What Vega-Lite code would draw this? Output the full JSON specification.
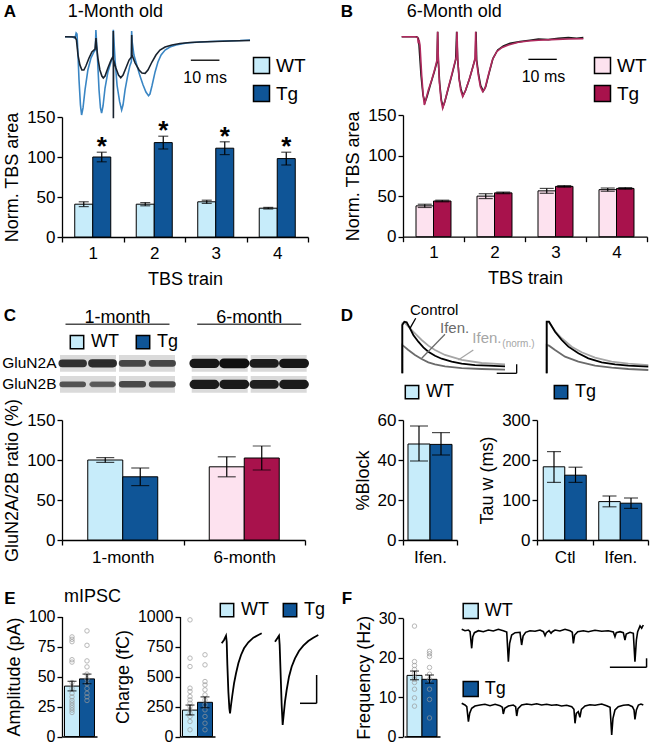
{
"$schema":"https://vega.github.io/schema/vega-lite/v6.json",
"width":650,"height":746,"autosize":{"type":"none"},"padding":0,"background":"white",
"config":{
 "font":"Liberation Sans",
 "view":{"stroke":null},
 "axis":{"grid":false,"domainColor":"black","domainWidth":1.3,"tickColor":"black","tickWidth":1.3,"tickSize":5,"labelColor":"black","labelFontSize":17,"titleFontSize":18,"titleFontWeight":"normal","titleColor":"black","labelPadding":2,"titlePadding":5},
 "legend":{"labelColor":"black","labelFontSize":19},
 "text":{"color":"black"}
},
"datasets":{
 "letters":[{"letter":"A","col":"left","row":"top"},{"letter":"B","col":"right","row":"top"},{"letter":"C","col":"left","row":"middle"},{"letter":"D","col":"right","row":"middle"}],
 "letters2":[{"letter":"E","col":"left","row":"bottom"},{"letter":"F","col":"right","row":"bottom"}],
 "tbsA":[
  {"train":"1","geno":"WT","mean":41,"lo":38,"hi":44},{"train":"1","geno":"Tg","mean":100,"lo":94,"hi":106,"sig":"*"},
  {"train":"2","geno":"WT","mean":41,"lo":39,"hi":43},{"train":"2","geno":"Tg","mean":118,"lo":110,"hi":126,"sig":"*"},
  {"train":"3","geno":"WT","mean":44,"lo":42,"hi":46},{"train":"3","geno":"Tg","mean":111,"lo":103,"hi":119,"sig":"*"},
  {"train":"4","geno":"WT","mean":36,"lo":35,"hi":37},{"train":"4","geno":"Tg","mean":98,"lo":90,"hi":106,"sig":"*"}],
 "tbsB":[
  {"train":"1","geno":"WT","mean":38,"lo":36,"hi":40},{"train":"1","geno":"Tg","mean":44,"lo":43,"hi":45},
  {"train":"2","geno":"WT","mean":50,"lo":47,"hi":53},{"train":"2","geno":"Tg","mean":54,"lo":53,"hi":55},
  {"train":"3","geno":"WT","mean":56.5,"lo":53.5,"hi":59.5},{"train":"3","geno":"Tg","mean":62,"lo":61,"hi":63},
  {"train":"4","geno":"WT","mean":58,"lo":56,"hi":60},{"train":"4","geno":"Tg","mean":59.5,"lo":58.5,"hi":60.5}],
 "traceA":[
  {"s":"Tg","t":0,"v":0},{"s":"Tg","t":2.4,"v":0},{"s":"Tg","t":3.5,"v":-1.7},{"s":"Tg","t":3.9,"v":4.7},{"s":"Tg","t":4.2,"v":3.4},{"s":"Tg","t":4.4,"v":-10.6},{"s":"Tg","t":4.9,"v":-55},{"s":"Tg","t":5.4,"v":-87},{"s":"Tg","t":5.8,"v":-100},{"s":"Tg","t":6.3,"v":-91},{"s":"Tg","t":7,"v":-68},{"s":"Tg","t":8,"v":-42.5},{"s":"Tg","t":9.1,"v":-27},{"s":"Tg","t":10.1,"v":-19.5},{"s":"Tg","t":10.6,"v":-17},{"s":"Tg","t":10.8,"v":8.6},{"s":"Tg","t":11,"v":-4},{"s":"Tg","t":11.4,"v":-30},{"s":"Tg","t":11.9,"v":-68},{"s":"Tg","t":12.4,"v":-91},{"s":"Tg","t":12.8,"v":-97.5},{"s":"Tg","t":13.3,"v":-88.5},{"s":"Tg","t":14,"v":-65.5},{"s":"Tg","t":15,"v":-45},{"s":"Tg","t":16.1,"v":-32},{"s":"Tg","t":16.7,"v":-27},{"s":"Tg","t":16.9,"v":9},{"s":"Tg","t":17.1,"v":-4},{"s":"Tg","t":17.5,"v":-30},{"s":"Tg","t":18.2,"v":-62},{"s":"Tg","t":19.1,"v":-83},{"s":"Tg","t":19.8,"v":-93.6},{"s":"Tg","t":20.3,"v":-87},{"s":"Tg","t":21,"v":-68},{"s":"Tg","t":21.9,"v":-50},{"s":"Tg","t":22.7,"v":-37},{"s":"Tg","t":23.2,"v":-32},{"s":"Tg","t":23.3,"v":7.3},{"s":"Tg","t":23.5,"v":-7},{"s":"Tg","t":24.1,"v":-23.4},{"s":"Tg","t":25.2,"v":-37.4},{"s":"Tg","t":26.2,"v":-50},{"s":"Tg","t":27.3,"v":-61.7},{"s":"Tg","t":28.3,"v":-70.7},{"s":"Tg","t":29.2,"v":-75.4},{"s":"Tg","t":29.7,"v":-73.2},{"s":"Tg","t":30.4,"v":-63},{"s":"Tg","t":31.5,"v":-45},{"s":"Tg","t":32.5,"v":-32.3},{"s":"Tg","t":33.6,"v":-23.4},{"s":"Tg","t":35,"v":-17},{"s":"Tg","t":36.7,"v":-13.2},{"s":"Tg","t":38.8,"v":-10.6},{"s":"Tg","t":42.5,"v":-8},{"s":"Tg","t":47.2,"v":-6.8},{"s":"Tg","t":50.7,"v":-6.1},{"s":"Tg","t":55.9,"v":-5.5},{"s":"Tg","t":61.2,"v":-4.9},{"s":"Tg","t":64.7,"v":-4.2},
  {"s":"WT","t":0,"v":0},{"s":"WT","t":3.5,"v":-0.4},{"s":"WT","t":4,"v":-4.2},{"s":"WT","t":4.55,"v":-23.4},{"s":"WT","t":5.2,"v":-36},{"s":"WT","t":5.9,"v":-42.5},{"s":"WT","t":6.6,"v":-42.5},{"s":"WT","t":7.3,"v":-37.4},{"s":"WT","t":8.4,"v":-27.2},{"s":"WT","t":9.4,"v":-19.5},{"s":"WT","t":10.5,"v":-15.7},{"s":"WT","t":10.84,"v":-1.7},{"s":"WT","t":11,"v":-10.6},{"s":"WT","t":11.5,"v":-27.2},{"s":"WT","t":12.2,"v":-42.5},{"s":"WT","t":12.9,"v":-50.2},{"s":"WT","t":13.4,"v":-52.8},{"s":"WT","t":14,"v":-50.2},{"s":"WT","t":15,"v":-40},{"s":"WT","t":16.1,"v":-29.8},{"s":"WT","t":16.85,"v":-24.7},{"s":"WT","t":16.89,"v":7.3},{"s":"WT","t":16.92,"v":-104},{"s":"WT","t":16.99,"v":-29.8},{"s":"WT","t":17.8,"v":-40},{"s":"WT","t":18.7,"v":-48.9},{"s":"WT","t":19.5,"v":-52.4},{"s":"WT","t":20.3,"v":-48.9},{"s":"WT","t":21.3,"v":-40},{"s":"WT","t":22.4,"v":-29.8},{"s":"WT","t":23.25,"v":-25.9},{"s":"WT","t":23.32,"v":2.2},{"s":"WT","t":23.43,"v":-23.4},{"s":"WT","t":24.5,"v":-33.6},{"s":"WT","t":25.9,"v":-42.5},{"s":"WT","t":26.9,"v":-46.4},{"s":"WT","t":28,"v":-46.8},{"s":"WT","t":29,"v":-42.5},{"s":"WT","t":30.4,"v":-32.3},{"s":"WT","t":31.8,"v":-23.4},{"s":"WT","t":33.2,"v":-17},{"s":"WT","t":35,"v":-13.2},{"s":"WT","t":37.4,"v":-10.6},{"s":"WT","t":40.2,"v":-8.7},{"s":"WT","t":43.7,"v":-7.4},{"s":"WT","t":47.2,"v":-6.8},{"s":"WT","t":52.5,"v":-6.1},{"s":"WT","t":57.7,"v":-5.5},{"s":"WT","t":64.7,"v":-4.9}],
 "traceB":[
  {"s":"WT","t":0,"v":0},{"s":"WT","t":5.27,"v":0},{"s":"WT","t":5.86,"v":-2},{"s":"WT","t":6.09,"v":-10.4},{"s":"WT","t":6.8,"v":-47.9},{"s":"WT","t":7.5,"v":-72.9},{"s":"WT","t":8.2,"v":-82},{"s":"WT","t":8.91,"v":-75},{"s":"WT","t":10.08,"v":-60.4},{"s":"WT","t":11.49,"v":-43.7},{"s":"WT","t":12.43,"v":-31.2},{"s":"WT","t":12.66,"v":6.3},{"s":"WT","t":12.9,"v":-31.2},{"s":"WT","t":13.37,"v":-58.3},{"s":"WT","t":13.96,"v":-79.1},{"s":"WT","t":14.54,"v":-87.5},{"s":"WT","t":15.25,"v":-80.4},{"s":"WT","t":16.42,"v":-64.5},{"s":"WT","t":17.83,"v":-45.8},{"s":"WT","t":19,"v":-29.1},{"s":"WT","t":19.35,"v":6.3},{"s":"WT","t":19.71,"v":-29.1},{"s":"WT","t":20.29,"v":-54.1},{"s":"WT","t":20.88,"v":-65.4},{"s":"WT","t":21.58,"v":-73.7},{"s":"WT","t":22.52,"v":-67},{"s":"WT","t":23.93,"v":-52},{"s":"WT","t":25.22,"v":-35.4},{"s":"WT","t":25.93,"v":-27},{"s":"WT","t":26.16,"v":6.3},{"s":"WT","t":26.4,"v":-29.1},{"s":"WT","t":27.1,"v":-47.9},{"s":"WT","t":27.81,"v":-61.2},{"s":"WT","t":28.74,"v":-67.9},{"s":"WT","t":29.57,"v":-62.5},{"s":"WT","t":30.74,"v":-45.8},{"s":"WT","t":32.15,"v":-27},{"s":"WT","t":33.79,"v":-16.6},{"s":"WT","t":35.79,"v":-11.6},{"s":"WT","t":38.13,"v":-8.3},{"s":"WT","t":41.65,"v":-6.2},{"s":"WT","t":45.18,"v":-4.5},{"s":"WT","t":48.11,"v":-2.9},{"s":"WT","t":51.63,"v":-3.7},{"s":"WT","t":55.15,"v":-2},{"s":"WT","t":58.67,"v":-1.2},{"s":"WT","t":61.61,"v":-2},{"s":"WT","t":63.95,"v":-1.2},
  {"s":"Tg","t":0,"v":0},{"s":"Tg","t":4.7,"v":0},{"s":"Tg","t":5.6,"v":-0.8},{"s":"Tg","t":5.86,"v":-8.3},{"s":"Tg","t":6.1,"v":-4.1},{"s":"Tg","t":6.44,"v":-10.4},{"s":"Tg","t":7.03,"v":-47.9},{"s":"Tg","t":7.62,"v":-75},{"s":"Tg","t":7.97,"v":-85.4},{"s":"Tg","t":8.44,"v":-79.1},{"s":"Tg","t":9.38,"v":-66.6},{"s":"Tg","t":10.55,"v":-54.1},{"s":"Tg","t":11.73,"v":-39.5},{"s":"Tg","t":12.43,"v":-29.1},{"s":"Tg","t":12.66,"v":6.3},{"s":"Tg","t":12.9,"v":-27},{"s":"Tg","t":13.25,"v":-56.2},{"s":"Tg","t":13.84,"v":-79.1},{"s":"Tg","t":14.42,"v":-89.5},{"s":"Tg","t":15.01,"v":-83.3},{"s":"Tg","t":16.19,"v":-66.6},{"s":"Tg","t":17.59,"v":-47.9},{"s":"Tg","t":18.77,"v":-31.2},{"s":"Tg","t":19.24,"v":-25},{"s":"Tg","t":19.47,"v":6.3},{"s":"Tg","t":19.71,"v":-27},{"s":"Tg","t":20.18,"v":-52.1},{"s":"Tg","t":20.76,"v":-66.6},{"s":"Tg","t":21.47,"v":-75},{"s":"Tg","t":22.29,"v":-68.7},{"s":"Tg","t":23.7,"v":-54.1},{"s":"Tg","t":25.1,"v":-37.5},{"s":"Tg","t":25.81,"v":-27},{"s":"Tg","t":26.04,"v":6.3},{"s":"Tg","t":26.28,"v":-29.1},{"s":"Tg","t":26.98,"v":-47.9},{"s":"Tg","t":27.69,"v":-62.5},{"s":"Tg","t":28.51,"v":-68.7},{"s":"Tg","t":29.33,"v":-64.5},{"s":"Tg","t":30.5,"v":-47.9},{"s":"Tg","t":31.91,"v":-29.1},{"s":"Tg","t":33.44,"v":-18.7},{"s":"Tg","t":35.2,"v":-13.7},{"s":"Tg","t":37.55,"v":-10.4},{"s":"Tg","t":41.07,"v":-7},{"s":"Tg","t":44.59,"v":-5.4},{"s":"Tg","t":48.11,"v":-4.5},{"s":"Tg","t":52.8,"v":-3.7},{"s":"Tg","t":58.67,"v":-2.9},{"s":"Tg","t":63.95,"v":-2.5}],
 "ratio":[{"age":"1-month","geno":"WT","mean":100,"lo":97,"hi":103},{"age":"1-month","geno":"Tg","mean":79,"lo":68,"hi":90},{"age":"6-month","geno":"WT","mean":91.5,"lo":79,"hi":104},{"age":"6-month","geno":"Tg","mean":102.5,"lo":87.5,"hi":117.5}],
 "header":[{"age":"1-month","part":"label"},{"age":"6-month","part":"label"},{"age":"1-month","part":"line"},{"age":"6-month","part":"line"}],
 "blotBox":[{"age":"1-month","geno":"WT","protein":"GluN2A"},{"age":"1-month","geno":"Tg","protein":"GluN2A"},{"age":"6-month","geno":"WT","protein":"GluN2A"},{"age":"6-month","geno":"Tg","protein":"GluN2A"},{"age":"1-month","geno":"WT","protein":"GluN2B"},{"age":"1-month","geno":"Tg","protein":"GluN2B"},{"age":"6-month","geno":"WT","protein":"GluN2B"},{"age":"6-month","geno":"Tg","protein":"GluN2B"}],
 "blot":[
  {"age":"1-month","lane":"WT-1","protein":"GluN2A","density":0.75},{"age":"1-month","lane":"WT-2","protein":"GluN2A","density":0.8},{"age":"1-month","lane":"Tg-1","protein":"GluN2A","density":0.6},{"age":"1-month","lane":"Tg-2","protein":"GluN2A","density":0.6},
  {"age":"1-month","lane":"WT-1","protein":"GluN2B","density":0.5},{"age":"1-month","lane":"WT-2","protein":"GluN2B","density":0.45},{"age":"1-month","lane":"Tg-1","protein":"GluN2B","density":0.58},{"age":"1-month","lane":"Tg-2","protein":"GluN2B","density":0.55},
  {"age":"6-month","lane":"WT-1","protein":"GluN2A","density":0.95},{"age":"6-month","lane":"WT-2","protein":"GluN2A","density":1},{"age":"6-month","lane":"Tg-1","protein":"GluN2A","density":0.9},{"age":"6-month","lane":"Tg-2","protein":"GluN2A","density":0.95},
  {"age":"6-month","lane":"WT-1","protein":"GluN2B","density":0.92},{"age":"6-month","lane":"WT-2","protein":"GluN2B","density":0.93},{"age":"6-month","lane":"Tg-1","protein":"GluN2B","density":0.88},{"age":"6-month","lane":"Tg-2","protein":"GluN2B","density":0.92}],
 "block":[{"cond":"Ifen.","geno":"WT","mean":48,"lo":39.5,"hi":57},{"cond":"Ifen.","geno":"Tg","mean":47.8,"lo":42.5,"hi":53.7}],
 "tau":[{"cond":"Ctl","geno":"WT","mean":183,"lo":144,"hi":221},{"cond":"Ctl","geno":"Tg","mean":162,"lo":144,"hi":182},{"cond":"Ifen.","geno":"WT","mean":96,"lo":83,"hi":110},{"cond":"Ifen.","geno":"Tg","mean":92,"lo":79,"hi":105}],
 "traceD":[
  {"cell":"WT","cond":"Ifen. (norm.)","t":0,"v":0},{"cell":"WT","cond":"Ifen. (norm.)","t":0,"v":96.8},{"cell":"WT","cond":"Ifen. (norm.)","t":10.7,"v":98.8},{"cell":"WT","cond":"Ifen. (norm.)","t":31.7,"v":90.4},{"cell":"WT","cond":"Ifen. (norm.)","t":66.7,"v":77.5},{"cell":"WT","cond":"Ifen. (norm.)","t":101.8,"v":64.6},{"cell":"WT","cond":"Ifen. (norm.)","t":137,"v":53.6},{"cell":"WT","cond":"Ifen. (norm.)","t":172.1,"v":45.2},{"cell":"WT","cond":"Ifen. (norm.)","t":224.7,"v":35.5},{"cell":"WT","cond":"Ifen. (norm.)","t":312.5,"v":25.8},{"cell":"WT","cond":"Ifen. (norm.)","t":417.8,"v":20},{"cell":"WT","cond":"Ifen. (norm.)","t":540.6,"v":17.4},
  {"cell":"WT","cond":"Ifen.","t":0,"v":0},{"cell":"WT","cond":"Ifen.","t":0,"v":54.8},{"cell":"WT","cond":"Ifen.","t":10.7,"v":51.6},{"cell":"WT","cond":"Ifen.","t":31.7,"v":45.2},{"cell":"WT","cond":"Ifen.","t":66.7,"v":35.5},{"cell":"WT","cond":"Ifen.","t":101.8,"v":27.7},{"cell":"WT","cond":"Ifen.","t":137,"v":21.3},{"cell":"WT","cond":"Ifen.","t":172.1,"v":17.4},{"cell":"WT","cond":"Ifen.","t":224.7,"v":13.4},{"cell":"WT","cond":"Ifen.","t":312.5,"v":10.2},{"cell":"WT","cond":"Ifen.","t":417.8,"v":8.3},{"cell":"WT","cond":"Ifen.","t":540.6,"v":7},
  {"cell":"WT","cond":"Control","t":0,"v":0},{"cell":"WT","cond":"Control","t":0,"v":93.6},{"cell":"WT","cond":"Control","t":10.7,"v":100},{"cell":"WT","cond":"Control","t":22.9,"v":98.8},{"cell":"WT","cond":"Control","t":40.5,"v":87.1},{"cell":"WT","cond":"Control","t":58,"v":74.2},{"cell":"WT","cond":"Control","t":84.4,"v":61.3},{"cell":"WT","cond":"Control","t":110.7,"v":50.3},{"cell":"WT","cond":"Control","t":137,"v":41.9},{"cell":"WT","cond":"Control","t":172.1,"v":34.1},{"cell":"WT","cond":"Control","t":207.2,"v":28.3},{"cell":"WT","cond":"Control","t":259.9,"v":22.5},{"cell":"WT","cond":"Control","t":312.5,"v":18.6},{"cell":"WT","cond":"Control","t":382.7,"v":16},{"cell":"WT","cond":"Control","t":452.9,"v":14.7},{"cell":"WT","cond":"Control","t":540.6,"v":13.4},
  {"cell":"Tg","cond":"Ifen. (norm.)","t":0,"v":0},{"cell":"Tg","cond":"Ifen. (norm.)","t":0,"v":98.8},{"cell":"Tg","cond":"Ifen. (norm.)","t":12.3,"v":98.8},{"cell":"Tg","cond":"Ifen. (norm.)","t":43.9,"v":82},{"cell":"Tg","cond":"Ifen. (norm.)","t":79,"v":67.8},{"cell":"Tg","cond":"Ifen. (norm.)","t":131.6,"v":51.6},{"cell":"Tg","cond":"Ifen. (norm.)","t":184.2,"v":40.7},{"cell":"Tg","cond":"Ifen. (norm.)","t":254.4,"v":30.3},{"cell":"Tg","cond":"Ifen. (norm.)","t":342.1,"v":22.5},{"cell":"Tg","cond":"Ifen. (norm.)","t":429.8,"v":18.6},{"cell":"Tg","cond":"Ifen. (norm.)","t":535,"v":16},
  {"cell":"Tg","cond":"Ifen.","t":0,"v":0},{"cell":"Tg","cond":"Ifen.","t":0,"v":54.8},{"cell":"Tg","cond":"Ifen.","t":12.3,"v":53.5},{"cell":"Tg","cond":"Ifen.","t":43.9,"v":45.2},{"cell":"Tg","cond":"Ifen.","t":96.5,"v":32.3},{"cell":"Tg","cond":"Ifen.","t":166.7,"v":22.5},{"cell":"Tg","cond":"Ifen.","t":254.4,"v":14.7},{"cell":"Tg","cond":"Ifen.","t":342.1,"v":10.9},{"cell":"Tg","cond":"Ifen.","t":429.8,"v":8.3},{"cell":"Tg","cond":"Ifen.","t":535,"v":6.4},
  {"cell":"Tg","cond":"Control","t":0,"v":0},{"cell":"Tg","cond":"Control","t":0,"v":100},{"cell":"Tg","cond":"Control","t":12.3,"v":100},{"cell":"Tg","cond":"Control","t":43.9,"v":80.6},{"cell":"Tg","cond":"Control","t":79,"v":64.5},{"cell":"Tg","cond":"Control","t":114.1,"v":51.6},{"cell":"Tg","cond":"Control","t":166.7,"v":38.7},{"cell":"Tg","cond":"Control","t":219.3,"v":29},{"cell":"Tg","cond":"Control","t":289.5,"v":21.3},{"cell":"Tg","cond":"Control","t":359.6,"v":17.4},{"cell":"Tg","cond":"Control","t":429.8,"v":14.7},{"cell":"Tg","cond":"Control","t":535,"v":12.8}],
 "dRules":[{"t":70.5,"v":106.6,"t2":40.5,"v2":87.2,"cond":"Control"},{"t":224.7,"v":75.6,"t2":102.1,"v2":29.1,"cond":"Ifen."},{"t":373.7,"v":45.2,"t2":294.7,"v2":25.8,"cond":"Ifen. (norm.)"},{"t":497,"v":0,"t2":602,"v2":0,"cond":"Control"},{"t":602,"v":0,"t2":602,"v2":17.4,"cond":"Control"}],
 "dLabels":[{"t":40.5,"v":122.7,"label":"Control","cond":"Control"},{"t":198.4,"v":87.2,"label":"Ifen.","cond":"Ifen."},{"t":368.4,"v":67.8,"label":"Ifen.","cond":"Ifen. (norm.)"}],
 "amp":[{"geno":"WT","mean":42,"lo":38,"hi":46},{"geno":"Tg","mean":48,"lo":44,"hi":52}],
 "ampPts":[{"geno":"WT","value":83},{"geno":"WT","value":81},{"geno":"WT","value":79},{"geno":"WT","value":64},{"geno":"WT","value":62},{"geno":"WT","value":45},{"geno":"WT","value":40},{"geno":"WT","value":36},{"geno":"WT","value":33},{"geno":"WT","value":30},{"geno":"WT","value":28},{"geno":"WT","value":26},{"geno":"WT","value":24},{"geno":"WT","value":22},{"geno":"WT","value":20},
  {"geno":"Tg","value":88},{"geno":"Tg","value":76},{"geno":"Tg","value":63},{"geno":"Tg","value":58},{"geno":"Tg","value":52},{"geno":"Tg","value":48},{"geno":"Tg","value":44},{"geno":"Tg","value":40},{"geno":"Tg","value":36},{"geno":"Tg","value":33},{"geno":"Tg","value":30}],
 "charge":[{"geno":"WT","mean":220,"lo":180,"hi":262},{"geno":"Tg","mean":285,"lo":240,"hi":330}],
 "chargePts":[{"geno":"WT","value":972},{"geno":"WT","value":653},{"geno":"WT","value":583},{"geno":"WT","value":403},{"geno":"WT","value":375},{"geno":"WT","value":333},{"geno":"WT","value":305},{"geno":"WT","value":278},{"geno":"WT","value":250},{"geno":"WT","value":222},{"geno":"WT","value":194},{"geno":"WT","value":167},{"geno":"WT","value":125},{"geno":"WT","value":56},
  {"geno":"Tg","value":681},{"geno":"Tg","value":597},{"geno":"Tg","value":458},{"geno":"Tg","value":430},{"geno":"Tg","value":389},{"geno":"Tg","value":347},{"geno":"Tg","value":305},{"geno":"Tg","value":264},{"geno":"Tg","value":222},{"geno":"Tg","value":167},{"geno":"Tg","value":111},{"geno":"Tg","value":56}],
 "freq":[{"geno":"WT","mean":15.5,"lo":14.4,"hi":16.6},{"geno":"Tg","mean":14.5,"lo":13.5,"hi":15.6}],
 "freqPts":[{"geno":"WT","value":28},{"geno":"WT","value":19},{"geno":"WT","value":18},{"geno":"WT","value":17},{"geno":"WT","value":16},{"geno":"WT","value":15},{"geno":"WT","value":14.5},{"geno":"WT","value":13.7},{"geno":"WT","value":12},{"geno":"WT","value":9.8},{"geno":"WT","value":7.7},
  {"geno":"Tg","value":21.6},{"geno":"Tg","value":21},{"geno":"Tg","value":20.3},{"geno":"Tg","value":17.5},{"geno":"Tg","value":15.8},{"geno":"Tg","value":14.5},{"geno":"Tg","value":12},{"geno":"Tg","value":9.4},{"geno":"Tg","value":4.7}],
 "traceEWT":[{"t":0,"v":-8.3},{"t":1.4,"v":-5},{"t":2.6,"v":-0.7},{"t":3,"v":-6.7},{"t":3.4,"v":-30},{"t":4,"v":-56.7},{"t":4.6,"v":-73.3},{"t":5,"v":-78.3},{"t":5.6,"v":-70},{"t":6.4,"v":-60},{"t":7.4,"v":-48.3},{"t":8.6,"v":-38.3},{"t":10,"v":-28.3},{"t":11.6,"v":-20},{"t":13.4,"v":-13.3},{"t":16,"v":-7.3},{"t":19,"v":-2.7},{"t":22,"v":0},{"t":24,"v":1.7}],
 "traceETg":[{"t":0,"v":-6.7},{"t":1.4,"v":-3.3},{"t":2.4,"v":-0.7},{"t":2.8,"v":-10},{"t":3.4,"v":-40},{"t":4,"v":-70},{"t":4.6,"v":-90},{"t":5.2,"v":-80},{"t":6,"v":-66.7},{"t":7,"v":-55},{"t":8.4,"v":-41.7},{"t":10,"v":-31.7},{"t":12,"v":-23.3},{"t":14.4,"v":-16},{"t":17,"v":-10.7},{"t":20,"v":-6},{"t":23,"v":-2.7},{"t":26,"v":0}],
 "traceFWT":[{"t":0,"v":0.7},{"t":18,"v":-0.7},{"t":37,"v":0},{"t":46,"v":-1.7},{"t":55,"v":-18.3},{"t":61,"v":-6.7},{"t":70,"v":-2.7},{"t":92,"v":-0.7},{"t":119,"v":-1.7},{"t":147,"v":0},{"t":174,"v":-1},{"t":202,"v":0.7},{"t":229,"v":-0.7},{"t":248,"v":-2},{"t":257,"v":-31.7},{"t":264,"v":-13.3},{"t":275,"v":-5},{"t":294,"v":-2.7},{"t":321,"v":-2.3},{"t":330,"v":-15},{"t":338,"v":-6},{"t":352,"v":-2.3},{"t":376,"v":-0.7},{"t":404,"v":-1.3},{"t":431,"v":0},{"t":450,"v":-1.7},{"t":459,"v":-5.7},{"t":466,"v":-2.7},{"t":481,"v":-0.7},{"t":492,"v":-3.3},{"t":499,"v":-1.7},{"t":514,"v":0},{"t":541,"v":-1},{"t":569,"v":0.7},{"t":596,"v":-0.7},{"t":609,"v":-2.3},{"t":615,"v":-13.3},{"t":622,"v":-5},{"t":639,"v":-1.7},{"t":670,"v":-0.7},{"t":697,"v":-1.7},{"t":734,"v":-0.3},{"t":771,"v":-1.3},{"t":807,"v":-0.7},{"t":835,"v":-2},{"t":844,"v":-6.7},{"t":851,"v":-2.7},{"t":872,"v":-1.7},{"t":890,"v":-2.7},{"t":899,"v":-10},{"t":906,"v":-4},{"t":927,"v":-2.3},{"t":945,"v":-3.3},{"t":954,"v":-31.7},{"t":962,"v":-10},{"t":969,"v":-1.7},{"t":982,"v":4},{"t":991,"v":1.7},{"t":1000,"v":5}],
 "traceFTg":[{"t":0,"v":1.7},{"t":18,"v":0},{"t":28,"v":-1.7},{"t":37,"v":-16.7},{"t":44,"v":-8.3},{"t":55,"v":-3.3},{"t":73,"v":-1},{"t":101,"v":0},{"t":128,"v":0.7},{"t":156,"v":-0.7},{"t":184,"v":0.7},{"t":211,"v":-0.7},{"t":224,"v":-2.3},{"t":229,"v":-9},{"t":237,"v":-3.3},{"t":257,"v":-1},{"t":284,"v":0},{"t":297,"v":-1.7},{"t":303,"v":-11},{"t":310,"v":-3.7},{"t":330,"v":0},{"t":358,"v":1},{"t":385,"v":0.3},{"t":413,"v":1.3},{"t":440,"v":0},{"t":468,"v":0.7},{"t":495,"v":-0.3},{"t":523,"v":0.3},{"t":550,"v":-1},{"t":578,"v":-0.3},{"t":606,"v":-1.7},{"t":618,"v":-4.3},{"t":624,"v":-18.3},{"t":631,"v":-8.3},{"t":642,"v":-6.7},{"t":651,"v":-12.3},{"t":659,"v":-4.3},{"t":679,"v":-1},{"t":706,"v":0.3},{"t":734,"v":-0.3},{"t":771,"v":1},{"t":798,"v":-0.7},{"t":817,"v":-2.3},{"t":826,"v":-30},{"t":833,"v":-13.3},{"t":844,"v":-5},{"t":862,"v":-1.7},{"t":890,"v":-0.3},{"t":918,"v":0.3},{"t":940,"v":-1.7},{"t":949,"v":-5},{"t":954,"v":-14.3},{"t":962,"v":-5},{"t":973,"v":0},{"t":987,"v":1},{"t":1000,"v":0}]
},
"layer":[
 {"data":{"name":"letters"},"mark":{"type":"text","fontSize":17,"fontWeight":"bold","baseline":"middle","align":"center"},
  "encoding":{"x":{"field":"col","type":"nominal","scale":{"domain":["left","right"],"range":[10,347],"padding":0},"axis":null},
   "y":{"field":"row","type":"nominal","scale":{"domain":["top","middle"],"range":[12,316],"padding":0},"axis":null},
   "text":{"field":"letter"}}},
 {"data":{"name":"letters2"},"mark":{"type":"text","fontSize":17,"fontWeight":"bold","baseline":"middle","align":"center"},
  "encoding":{"x":{"field":"col","type":"nominal","scale":{"domain":["left","right"],"range":[10,347],"padding":0},"axis":null},
   "y":{"field":"row","type":"nominal","scale":{"domain":["middle","bottom"],"range":[316,599],"padding":0},"axis":null},
   "text":{"field":"letter"}}},

 {"encoding":{"x":{"field":"t","type":"quantitative","scale":{"domain":[0,65],"range":[65,250.9]},"axis":null},
   "y":{"field":"v","type":"quantitative","scale":{"domain":[-100,10],"range":[115,28.9]},"axis":null}},
  "layer":[
   {"data":{"name":"traceA"},"mark":{"type":"line","strokeWidth":1.6},"encoding":{"color":{"field":"s","type":"nominal","scale":{"domain":["Tg","WT"],"range":["#3a86c4","#18222e"]},"legend":null}}},
   {"data":{"values":[{"t":44,"t2":54,"v":-30}]},"mark":{"type":"rule","color":"black","strokeWidth":1.3},"encoding":{"x2":{"field":"t2"}}},
   {"data":{"values":[{"t":49,"v":-53,"label":"10 ms"}]},"mark":{"type":"text","fontSize":16,"baseline":"middle","align":"center"},"encoding":{"text":{"field":"label"}}},
   {"data":{"values":[{"t":1,"v":31.6,"label":"1-Month old"}]},"mark":{"type":"text","fontSize":18,"align":"left","baseline":"middle"},"encoding":{"text":{"field":"label"}}}
  ]},

 {"encoding":{"x":{"field":"t","type":"quantitative","scale":{"domain":[0,64],"range":[401.7,583.5]},"axis":null},
   "y":{"field":"v","type":"quantitative","scale":{"domain":[-90,10],"range":[108.7,28.7]},"axis":null}},
  "layer":[
   {"data":{"name":"traceB"},"mark":{"type":"line","strokeWidth":1.6},"encoding":{"color":{"field":"s","type":"nominal","scale":{"domain":["WT","Tg"],"range":["#1a1a1a","#b02a5e"]},"legend":null}}},
   {"data":{"values":[{"t":44.6,"t2":54.6,"v":-28.3}]},"mark":{"type":"rule","color":"black","strokeWidth":1.3},"encoding":{"x2":{"field":"t2"}}},
   {"data":{"values":[{"t":49.9,"v":-50.8,"label":"10 ms"}]},"mark":{"type":"text","fontSize":16,"baseline":"middle","align":"center"},"encoding":{"text":{"field":"label"}}},
   {"data":{"values":[{"t":1.76,"v":30.9,"label":"6-Month old"}]},"mark":{"type":"text","fontSize":18,"align":"left","baseline":"middle"},"encoding":{"text":{"field":"label"}}}
  ]},

 {"data":{"name":"tbsA"},
  "encoding":{"x":{"field":"train","type":"ordinal","scale":{"range":[62,308],"paddingInner":0,"paddingOuter":0},"axis":{"orient":"bottom","offset":-509,"title":"TBS train","labelAngle":0,"tickBand":"extent","labelPadding":3,"titlePadding":9}},
   "xOffset":{"field":"geno","type":"nominal","scale":{"domain":["WT","Tg"],"paddingInner":0,"paddingOuter":0.708}}},
  "layer":[
   {"mark":{"type":"bar","stroke":"black","strokeWidth":1},
    "encoding":{"y":{"field":"mean","type":"quantitative","scale":{"domain":[0,150],"range":[237,117]},"axis":{"orient":"left","offset":-62,"values":[0,50,100,150],"title":"Norm. TBS area"}},
     "color":{"field":"geno","type":"nominal","scale":{"domain":["WT","Tg"],"range":["#c7ecfa","#0f5597"]},
      "legend":{"orient":"none","legendX":252,"legendY":56,"direction":"vertical","title":null,"symbolType":"square","symbolSize":256,"labelFontSize":19,"labelOffset":5,"padding":0,"rowPadding":5,"encode":{"symbols":{"update":{"stroke":{"value":"black"},"strokeWidth":{"value":1.2}}}}}}}},
   {"mark":{"type":"rule","color":"black","strokeWidth":1.2},"encoding":{"y":{"field":"lo","type":"quantitative","scale":{"domain":[0,150],"range":[237,117]},"axis":{"orient":"left","offset":-62,"values":[0,50,100,150],"title":"Norm. TBS area"}},"y2":{"field":"hi"}}},
   {"mark":{"type":"tick","orient":"horizontal","color":"black","size":10,"thickness":1.2},"encoding":{"y":{"field":"lo","type":"quantitative","scale":{"domain":[0,150],"range":[237,117]},"axis":{"orient":"left","offset":-62,"values":[0,50,100,150],"title":"Norm. TBS area"}}}},
   {"mark":{"type":"tick","orient":"horizontal","color":"black","size":10,"thickness":1.2},"encoding":{"y":{"field":"hi","type":"quantitative","scale":{"domain":[0,150],"range":[237,117]},"axis":{"orient":"left","offset":-62,"values":[0,50,100,150],"title":"Norm. TBS area"}}}},
   {"transform":[{"filter":"datum.sig == '*'"}],"mark":{"type":"text","fontSize":26,"fontWeight":"bold","baseline":"alphabetic","align":"center","dy":3},"encoding":{"y":{"field":"hi","type":"quantitative","scale":{"domain":[0,150],"range":[237,117]},"axis":{"orient":"left","offset":-62,"values":[0,50,100,150],"title":"Norm. TBS area"}},"text":{"field":"sig"}}}
  ]},

 {"data":{"name":"tbsB"},
  "encoding":{"x":{"field":"train","type":"ordinal","scale":{"range":[403,647],"paddingInner":0,"paddingOuter":0},"axis":{"orient":"bottom","offset":-509.3,"title":"TBS train","labelAngle":0,"tickBand":"extent","labelPadding":3,"titlePadding":9}},
   "xOffset":{"field":"geno","type":"nominal","scale":{"domain":["WT","Tg"],"paddingInner":0,"paddingOuter":0.743}}},
  "layer":[
   {"mark":{"type":"bar","stroke":"black","strokeWidth":1},
    "encoding":{"y":{"field":"mean","type":"quantitative","scale":{"domain":[0,150],"range":[236.7,115]},"axis":{"orient":"left","offset":-403,"values":[0,50,100,150],"title":"Norm. TBS area"}},
     "color":{"field":"geno","type":"nominal","scale":{"domain":["WT","Tg"],"range":["#fde2ef","#a8124c"]},
      "legend":{"orient":"none","legendX":593,"legendY":56,"direction":"vertical","title":null,"symbolType":"square","symbolSize":256,"labelFontSize":19,"labelOffset":5,"padding":0,"rowPadding":5,"encode":{"symbols":{"update":{"stroke":{"value":"black"},"strokeWidth":{"value":1.2}}}}}}}},
   {"mark":{"type":"rule","color":"black","strokeWidth":1.2},"encoding":{"y":{"field":"lo","type":"quantitative","scale":{"domain":[0,150],"range":[236.7,115]},"axis":{"orient":"left","offset":-403,"values":[0,50,100,150],"title":"Norm. TBS area"}},"y2":{"field":"hi"}}},
   {"mark":{"type":"tick","orient":"horizontal","color":"black","size":14,"thickness":1.2},"encoding":{"y":{"field":"lo","type":"quantitative","scale":{"domain":[0,150],"range":[236.7,115]},"axis":{"orient":"left","offset":-403,"values":[0,50,100,150],"title":"Norm. TBS area"}}}},
   {"mark":{"type":"tick","orient":"horizontal","color":"black","size":14,"thickness":1.2},"encoding":{"y":{"field":"hi","type":"quantitative","scale":{"domain":[0,150],"range":[236.7,115]},"axis":{"orient":"left","offset":-403,"values":[0,50,100,150],"title":"Norm. TBS area"}}}}
  ]},

 {"data":{"name":"header"},
  "encoding":{"x":{"field":"age","type":"nominal","scale":{"domain":["1-month","6-month"],"range":[60,306.7],"paddingInner":0.127,"paddingOuter":0},"axis":null},
   "y":{"field":"part","type":"nominal","scale":{"domain":["label","line"],"range":[315,327.3],"padding":0},"axis":null}},
  "layer":[
   {"transform":[{"filter":"datum.part == 'label'"}],"mark":{"type":"text","fontSize":18,"baseline":"middle","align":"center"},"encoding":{"text":{"field":"age"}}},
   {"transform":[{"filter":"datum.part == 'line'"}],"mark":{"type":"tick","orient":"horizontal","color":"black","size":104,"thickness":1.3}}
  ]},

 {"encoding":{"x":{"field":"age","type":"nominal","scale":{"domain":["1-month","6-month"],"range":[60,306.7],"paddingInner":0.127,"paddingOuter":0},"axis":null},
   "y":{"field":"protein","type":"nominal","scale":{"domain":["GluN2A","GluN2B"],"range":[355,392.7],"paddingInner":0.205,"paddingOuter":0},"axis":{"orient":"left","offset":-58,"domain":false,"ticks":false,"labelPadding":2,"title":null,"labelFontSize":15.5}}},
  "layer":[
   {"data":{"name":"blotBox"},"mark":{"type":"bar","color":"#dadada"},"encoding":{"xOffset":{"field":"geno","type":"nominal","scale":{"domain":["WT","Tg"],"paddingInner":0.05,"paddingOuter":0}}}},
   {"data":{"name":"blot"},"mark":{"type":"bar","height":{"band":0.28},"fill":"#111111","stroke":"#111111","cornerRadius":3},
    "encoding":{"xOffset":{"field":"lane","type":"nominal","scale":{"domain":["WT-1","WT-2","Tg-1","Tg-2"],"paddingInner":0.15,"paddingOuter":0}},
     "opacity":{"field":"density","type":"quantitative","scale":{"domain":[0.4,1],"range":[0.6,1]},"legend":null},
     "strokeWidth":{"field":"density","type":"quantitative","scale":{"domain":[0.4,1],"range":[0.5,5]},"legend":null}}}
  ],
  "resolve":{"scale":{"xOffset":"independent"}}},

 {"data":{"name":"ratio"},
  "encoding":{"x":{"field":"age","type":"nominal","scale":{"domain":["1-month","6-month"],"range":[62,305],"paddingInner":0,"paddingOuter":0},"axis":{"orient":"bottom","offset":-206,"title":null,"labelAngle":0,"tickBand":"extent","labelPadding":4}},
   "xOffset":{"field":"geno","type":"nominal","scale":{"domain":["WT","Tg"],"paddingInner":0,"paddingOuter":0.736}}},
  "layer":[
   {"transform":[{"filter":"datum.age == '1-month'"}],"mark":{"type":"bar","stroke":"black","strokeWidth":1},
    "encoding":{"y":{"field":"mean","type":"quantitative","scale":{"domain":[0,150],"range":[540,420]},"axis":{"orient":"left","offset":-62,"values":[0,50,100,150],"title":"GluN2A/2B ratio (%)"}},
     "color":{"field":"geno","type":"nominal","scale":{"domain":["WT","Tg"],"range":["#c7ecfa","#0f5597"]},
      "legend":{"orient":"none","legendX":68,"legendY":333,"direction":"horizontal","title":null,"symbolType":"square","symbolSize":180,"labelFontSize":18,"labelOffset":5,"padding":0,"columnPadding":14,"encode":{"symbols":{"update":{"stroke":{"value":"black"},"strokeWidth":{"value":1.2}}}}}}}},
   {"transform":[{"filter":"datum.age == '6-month'"}],"mark":{"type":"bar","stroke":"black","strokeWidth":1},
    "encoding":{"y":{"field":"mean","type":"quantitative","scale":{"domain":[0,150],"range":[540,420]},"axis":{"orient":"left","offset":-62,"values":[0,50,100,150],"title":"GluN2A/2B ratio (%)"}},
     "fill":{"field":"geno","type":"nominal","scale":{"domain":["WT","Tg"],"range":["#fde2ef","#a8124c"]},
      "legend":{"orient":"none","legendX":199,"legendY":333,"direction":"horizontal","title":null,"symbolType":"square","symbolSize":180,"labelFontSize":18,"labelOffset":5,"padding":0,"columnPadding":13,"encode":{"symbols":{"update":{"stroke":{"value":"black"},"strokeWidth":{"value":1.2}}}}}}}},
   {"mark":{"type":"rule","color":"black","strokeWidth":1.2},"encoding":{"y":{"field":"lo","type":"quantitative","scale":{"domain":[0,150],"range":[540,420]},"axis":{"orient":"left","offset":-62,"values":[0,50,100,150],"title":"GluN2A/2B ratio (%)"}},"y2":{"field":"hi"}}},
   {"mark":{"type":"tick","orient":"horizontal","color":"black","size":18,"thickness":1.2},"encoding":{"y":{"field":"lo","type":"quantitative","scale":{"domain":[0,150],"range":[540,420]},"axis":{"orient":"left","offset":-62,"values":[0,50,100,150],"title":"GluN2A/2B ratio (%)"}}}},
   {"mark":{"type":"tick","orient":"horizontal","color":"black","size":18,"thickness":1.2},"encoding":{"y":{"field":"hi","type":"quantitative","scale":{"domain":[0,150],"range":[540,420]},"axis":{"orient":"left","offset":-62,"values":[0,50,100,150],"title":"GluN2A/2B ratio (%)"}}}}
  ]},

 {"encoding":{"x":{"field":"t","type":"quantitative","scale":{"domain":[0,600],"range":[402.3,516.3]},"axis":null},
   "y":{"field":"v","type":"quantitative","scale":{"domain":[0,100],"range":[373.3,321.7]},"axis":null},
   "color":{"field":"cond","type":"nominal","scale":{"domain":["Ifen. (norm.)","Ifen.","Control"],"range":["#a6a6a6","#6b6b6b","#000000"]},"legend":null}},
  "layer":[
   {"data":{"name":"traceD"},"transform":[{"filter":"datum.cell == 'WT'"}],"mark":{"type":"line","strokeWidth":1.8}},
   {"data":{"name":"dRules"},"mark":{"type":"rule","strokeWidth":1.3},"encoding":{"x2":{"field":"t2"},"y2":{"field":"v2"}}},
   {"data":{"name":"dLabels"},"mark":{"type":"text","fontSize":15,"align":"left","baseline":"middle"},"encoding":{"text":{"field":"label"}}},
   {"data":{"values":[{"t":526.3,"v":56.8,"label":"(norm.)","cond":"Ifen. (norm.)"}]},"mark":{"type":"text","fontSize":10,"align":"left","baseline":"middle"},"encoding":{"text":{"field":"label"}}}
  ]},

 {"data":{"name":"traceD"},"transform":[{"filter":"datum.cell == 'Tg'"}],"mark":{"type":"line","strokeWidth":1.8},
  "encoding":{"x":{"field":"t","type":"quantitative","scale":{"domain":[0,535],"range":[546.7,648.3]},"axis":null},
   "y":{"field":"v","type":"quantitative","scale":{"domain":[0,100],"range":[373.3,321.7]},"axis":null},
   "color":{"field":"cond","type":"nominal","scale":{"domain":["Ifen. (norm.)","Ifen.","Control"],"range":["#a6a6a6","#6b6b6b","#000000"]},"legend":null}}},

 {"data":{"name":"block"},
  "encoding":{"x":{"field":"cond","type":"nominal","scale":{"domain":["Ifen."],"range":[403,457],"paddingInner":0,"paddingOuter":0},"axis":{"orient":"bottom","offset":-206,"title":null,"labelAngle":0,"tickBand":"extent","labelPadding":4}},
   "xOffset":{"field":"geno","type":"nominal","scale":{"domain":["WT","Tg"],"paddingInner":0,"paddingOuter":0.227}}},
  "layer":[
   {"mark":{"type":"bar","stroke":"black","strokeWidth":1},
    "encoding":{"y":{"field":"mean","type":"quantitative","scale":{"domain":[0,60],"range":[540,420]},"axis":{"orient":"left","offset":-403,"values":[0,20,40,60],"title":"%Block"}},
     "color":{"field":"geno","type":"nominal","scale":{"domain":["WT","Tg"],"range":["#c7ecfa","#0f5597"]},
      "legend":{"orient":"none","legendX":403,"legendY":383,"direction":"horizontal","title":null,"symbolType":"square","symbolSize":180,"labelFontSize":18,"labelOffset":5,"padding":0,"columnPadding":97,"encode":{"symbols":{"update":{"stroke":{"value":"black"},"strokeWidth":{"value":1.2}}}}}}}},
   {"mark":{"type":"rule","color":"black","strokeWidth":1.2},"encoding":{"y":{"field":"lo","type":"quantitative","scale":{"domain":[0,60],"range":[540,420]},"axis":{"orient":"left","offset":-403,"values":[0,20,40,60],"title":"%Block"}},"y2":{"field":"hi"}}},
   {"mark":{"type":"tick","orient":"horizontal","color":"black","size":18,"thickness":1.2},"encoding":{"y":{"field":"lo","type":"quantitative","scale":{"domain":[0,60],"range":[540,420]},"axis":{"orient":"left","offset":-403,"values":[0,20,40,60],"title":"%Block"}}}},
   {"mark":{"type":"tick","orient":"horizontal","color":"black","size":18,"thickness":1.2},"encoding":{"y":{"field":"hi","type":"quantitative","scale":{"domain":[0,60],"range":[540,420]},"axis":{"orient":"left","offset":-403,"values":[0,20,40,60],"title":"%Block"}}}}
  ]},

 {"data":{"name":"tau"},
  "encoding":{"x":{"field":"cond","type":"nominal","scale":{"domain":["Ctl","Ifen."],"range":[537,648],"paddingInner":0,"paddingOuter":0},"axis":{"orient":"bottom","offset":-206,"title":null,"labelAngle":0,"tickBand":"extent","labelPadding":4}},
   "xOffset":{"field":"geno","type":"nominal","scale":{"domain":["WT","Tg"],"paddingInner":0,"paddingOuter":0.29}}},
  "layer":[
   {"mark":{"type":"bar","stroke":"black","strokeWidth":1},
    "encoding":{"y":{"field":"mean","type":"quantitative","scale":{"domain":[0,300],"range":[540,420]},"axis":{"orient":"left","offset":-537,"values":[0,100,200,300],"title":"Tau w (ms)"}},
     "color":{"field":"geno","type":"nominal","scale":{"domain":["WT","Tg"],"range":["#c7ecfa","#0f5597"]},"legend":null}}},
   {"mark":{"type":"rule","color":"black","strokeWidth":1.2},"encoding":{"y":{"field":"lo","type":"quantitative","scale":{"domain":[0,300],"range":[540,420]},"axis":{"orient":"left","offset":-537,"values":[0,100,200,300],"title":"Tau w (ms)"}},"y2":{"field":"hi"}}},
   {"mark":{"type":"tick","orient":"horizontal","color":"black","size":14,"thickness":1.2},"encoding":{"y":{"field":"lo","type":"quantitative","scale":{"domain":[0,300],"range":[540,420]},"axis":{"orient":"left","offset":-537,"values":[0,100,200,300],"title":"Tau w (ms)"}}}},
   {"mark":{"type":"tick","orient":"horizontal","color":"black","size":14,"thickness":1.2},"encoding":{"y":{"field":"hi","type":"quantitative","scale":{"domain":[0,300],"range":[540,420]},"axis":{"orient":"left","offset":-537,"values":[0,100,200,300],"title":"Tau w (ms)"}}}}
  ]},

 {"encoding":{"x":{"field":"geno","type":"nominal","scale":{"domain":["WT","Tg"],"range":[62,97],"paddingInner":0,"paddingOuter":0.167},"axis":{"orient":"bottom","offset":-9.5,"labels":false,"ticks":false,"title":null}}},
  "layer":[
   {"data":{"name":"amp"},"mark":{"type":"bar","stroke":"black","strokeWidth":1},
    "encoding":{"y":{"field":"mean","type":"quantitative","scale":{"domain":[0,100],"range":[736.5,616.5]},"axis":{"orient":"left","offset":-62,"values":[0,25,50,75,100],"title":"Amplitude (pA)","labelFontSize":16}},
     "color":{"field":"geno","type":"nominal","scale":{"domain":["WT","Tg"],"range":["#c7ecfa","#0f5597"]},
      "legend":{"orient":"none","legendX":218,"legendY":601,"direction":"horizontal","title":null,"symbolType":"square","symbolSize":180,"labelFontSize":18,"labelOffset":5,"padding":0,"columnPadding":11,"encode":{"symbols":{"update":{"stroke":{"value":"black"},"strokeWidth":{"value":1.2}}}}}}}},
   {"data":{"name":"ampPts"},"mark":{"type":"point","shape":"circle","filled":false,"color":"#9a9a9a","size":20,"strokeWidth":1},"encoding":{"y":{"field":"value","type":"quantitative","scale":{"domain":[0,100],"range":[736.5,616.5]},"axis":{"orient":"left","offset":-62,"values":[0,25,50,75,100],"title":"Amplitude (pA)","labelFontSize":16}}}},
   {"data":{"name":"amp"},"mark":{"type":"rule","color":"black","strokeWidth":1.2},"encoding":{"y":{"field":"lo","type":"quantitative","scale":{"domain":[0,100],"range":[736.5,616.5]},"axis":{"orient":"left","offset":-62,"values":[0,25,50,75,100],"title":"Amplitude (pA)","labelFontSize":16}},"y2":{"field":"hi"}}},
   {"data":{"name":"amp"},"mark":{"type":"tick","orient":"horizontal","color":"black","size":9,"thickness":1.2},"encoding":{"y":{"field":"lo","type":"quantitative","scale":{"domain":[0,100],"range":[736.5,616.5]},"axis":{"orient":"left","offset":-62,"values":[0,25,50,75,100],"title":"Amplitude (pA)","labelFontSize":16}}}},
   {"data":{"name":"amp"},"mark":{"type":"tick","orient":"horizontal","color":"black","size":9,"thickness":1.2},"encoding":{"y":{"field":"hi","type":"quantitative","scale":{"domain":[0,100],"range":[736.5,616.5]},"axis":{"orient":"left","offset":-62,"values":[0,25,50,75,100],"title":"Amplitude (pA)","labelFontSize":16}}}},
   {"data":{"values":[{"geno":"WT","value":116.5,"label":"mIPSC"}]},"mark":{"type":"text","fontSize":18,"align":"left","baseline":"middle","dx":-8},"encoding":{"y":{"field":"value","type":"quantitative","scale":{"domain":[0,100],"range":[736.5,616.5]},"axis":{"orient":"left","offset":-62,"values":[0,25,50,75,100],"title":"Amplitude (pA)","labelFontSize":16}},"text":{"field":"label"}}}
  ]},

 {"encoding":{"x":{"field":"geno","type":"nominal","scale":{"domain":["WT","Tg"],"range":[180,215],"paddingInner":0,"paddingOuter":0.167},"axis":{"orient":"bottom","offset":-9.5,"labels":false,"ticks":false,"title":null}}},
  "layer":[
   {"data":{"name":"charge"},"mark":{"type":"bar","stroke":"black","strokeWidth":1},
    "encoding":{"y":{"field":"mean","type":"quantitative","scale":{"domain":[0,1000],"range":[736.5,616.5]},"axis":{"orient":"left","offset":-180,"values":[0,250,500,750,1000],"format":"d","title":"Charge (fC)","labelFontSize":16}},
     "color":{"field":"geno","type":"nominal","scale":{"domain":["WT","Tg"],"range":["#c7ecfa","#0f5597"]},"legend":null}}},
   {"data":{"name":"chargePts"},"mark":{"type":"point","shape":"circle","filled":false,"color":"#9a9a9a","size":20,"strokeWidth":1},"encoding":{"y":{"field":"value","type":"quantitative","scale":{"domain":[0,1000],"range":[736.5,616.5]},"axis":{"orient":"left","offset":-180,"values":[0,250,500,750,1000],"format":"d","title":"Charge (fC)","labelFontSize":16}}}},
   {"data":{"name":"charge"},"mark":{"type":"rule","color":"black","strokeWidth":1.2},"encoding":{"y":{"field":"lo","type":"quantitative","scale":{"domain":[0,1000],"range":[736.5,616.5]},"axis":{"orient":"left","offset":-180,"values":[0,250,500,750,1000],"format":"d","title":"Charge (fC)","labelFontSize":16}},"y2":{"field":"hi"}}},
   {"data":{"name":"charge"},"mark":{"type":"tick","orient":"horizontal","color":"black","size":9,"thickness":1.2},"encoding":{"y":{"field":"lo","type":"quantitative","scale":{"domain":[0,1000],"range":[736.5,616.5]},"axis":{"orient":"left","offset":-180,"values":[0,250,500,750,1000],"format":"d","title":"Charge (fC)","labelFontSize":16}}}},
   {"data":{"name":"charge"},"mark":{"type":"tick","orient":"horizontal","color":"black","size":9,"thickness":1.2},"encoding":{"y":{"field":"hi","type":"quantitative","scale":{"domain":[0,1000],"range":[736.5,616.5]},"axis":{"orient":"left","offset":-180,"values":[0,250,500,750,1000],"format":"d","title":"Charge (fC)","labelFontSize":16}}}}
  ]},

 {"data":{"name":"traceEWT"},"mark":{"type":"line","color":"black","strokeWidth":1.8},
  "encoding":{"x":{"field":"t","type":"quantitative","scale":{"domain":[0,24],"range":[221.7,261.7]},"axis":null},
   "y":{"field":"v","type":"quantitative","scale":{"domain":[-100,10],"range":[735,625]},"axis":null}}},

 {"encoding":{"x":{"field":"t","type":"quantitative","scale":{"domain":[0,26],"range":[275,318.3]},"axis":null},
   "y":{"field":"v","type":"quantitative","scale":{"domain":[-100,10],"range":[735,625]},"axis":null}},
  "layer":[
   {"data":{"name":"traceETg"},"mark":{"type":"line","color":"black","strokeWidth":1.8}},
   {"data":{"values":[{"t":25,"v":-40,"t2":25,"v2":-68.3},{"t":15,"v":-68.3,"t2":25,"v2":-68.3}]},"mark":{"type":"rule","color":"black","strokeWidth":1.5},"encoding":{"x2":{"field":"t2"},"y2":{"field":"v2"}}}
  ]},

 {"encoding":{"x":{"field":"geno","type":"nominal","scale":{"domain":["WT","Tg"],"range":[404,440],"paddingInner":0,"paddingOuter":0.2},"axis":{"orient":"bottom","offset":-9.5,"labels":false,"ticks":false,"title":null}}},
  "layer":[
   {"data":{"name":"freq"},"mark":{"type":"bar","stroke":"black","strokeWidth":1},
    "encoding":{"y":{"field":"mean","type":"quantitative","scale":{"domain":[0,30],"range":[736.5,618.2]},"axis":{"orient":"left","offset":-403,"values":[0,10,20,30],"title":"Frequency (Hz)","labelFontSize":16}},
     "color":{"field":"geno","type":"nominal","scale":{"domain":["WT","Tg"],"range":["#c7ecfa","#0f5597"]},
      "legend":{"orient":"none","legendX":461.7,"legendY":602,"direction":"vertical","title":null,"symbolType":"square","symbolSize":225,"labelFontSize":18,"labelOffset":5,"padding":0,"rowPadding":56,"encode":{"symbols":{"update":{"stroke":{"value":"black"},"strokeWidth":{"value":1.2}}}}}}}},
   {"data":{"name":"freqPts"},"mark":{"type":"point","shape":"circle","filled":false,"color":"#9a9a9a","size":20,"strokeWidth":1},"encoding":{"y":{"field":"value","type":"quantitative","scale":{"domain":[0,30],"range":[736.5,618.2]},"axis":{"orient":"left","offset":-403,"values":[0,10,20,30],"title":"Frequency (Hz)","labelFontSize":16}}}},
   {"data":{"name":"freq"},"mark":{"type":"rule","color":"black","strokeWidth":1.2},"encoding":{"y":{"field":"lo","type":"quantitative","scale":{"domain":[0,30],"range":[736.5,618.2]},"axis":{"orient":"left","offset":-403,"values":[0,10,20,30],"title":"Frequency (Hz)","labelFontSize":16}},"y2":{"field":"hi"}}},
   {"data":{"name":"freq"},"mark":{"type":"tick","orient":"horizontal","color":"black","size":9,"thickness":1.2},"encoding":{"y":{"field":"lo","type":"quantitative","scale":{"domain":[0,30],"range":[736.5,618.2]},"axis":{"orient":"left","offset":-403,"values":[0,10,20,30],"title":"Frequency (Hz)","labelFontSize":16}}}},
   {"data":{"name":"freq"},"mark":{"type":"tick","orient":"horizontal","color":"black","size":9,"thickness":1.2},"encoding":{"y":{"field":"hi","type":"quantitative","scale":{"domain":[0,30],"range":[736.5,618.2]},"axis":{"orient":"left","offset":-403,"values":[0,10,20,30],"title":"Frequency (Hz)","labelFontSize":16}}}}
  ]},

 {"encoding":{"x":{"field":"t","type":"quantitative","scale":{"domain":[0,1000],"range":[461.7,643.3]},"axis":null},
   "y":{"field":"v","type":"quantitative","scale":{"domain":[-40,10],"range":[670,620]},"axis":null}},
  "layer":[
   {"data":{"name":"traceFWT"},"mark":{"type":"line","color":"black","strokeWidth":1.6}},
   {"data":{"values":[{"t":816,"v":-37.3,"t2":1018,"v2":-37.3},{"t":1018,"v":-28.3,"t2":1018,"v2":-37.3}]},"mark":{"type":"rule","color":"black","strokeWidth":1.5},"encoding":{"x2":{"field":"t2"},"y2":{"field":"v2"}}}
  ]},

 {"data":{"name":"traceFTg"},"mark":{"type":"line","color":"black","strokeWidth":1.6},
  "encoding":{"x":{"field":"t","type":"quantitative","scale":{"domain":[0,1000],"range":[461.7,643.3]},"axis":null},
   "y":{"field":"v","type":"quantitative","scale":{"domain":[-40,10],"range":[745,695]},"axis":null}}}
],
"resolve":{"scale":{"x":"independent","y":"independent","xOffset":"independent","color":"independent","fill":"independent","opacity":"independent","strokeWidth":"independent"},"axis":{"x":"independent","y":"independent"},"legend":{"color":"independent","fill":"independent"}}
}
